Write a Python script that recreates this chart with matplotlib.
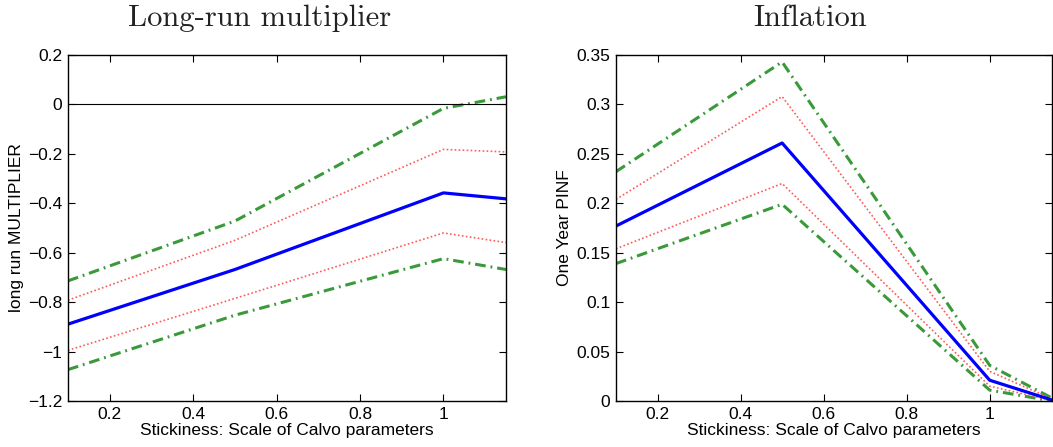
import matplotlib
matplotlib.use("Agg")
import matplotlib.pyplot as plt

x = [0.1, 0.5, 1.0, 1.15]

# Long-run multiplier
lr_mid = [-0.889, -0.668, -0.358, -0.382]
lr_up68 = [-0.792, -0.55, -0.182, -0.192]
lr_lo68 = [-0.995, -0.785, -0.52, -0.559]
lr_up90 = [-0.714, -0.472, -0.016, 0.031]
lr_lo90 = [-1.073, -0.853, -0.624, -0.668]

# Inflation
inf_mid = [0.177, 0.261, 0.021, 0.001]
inf_up68 = [0.204, 0.308, 0.030, 0.002]
inf_lo68 = [0.154, 0.220, 0.015, 0.0005]
inf_up90 = [0.232, 0.343, 0.036, 0.003]
inf_lo90 = [0.139, 0.199, 0.011, 0.0]

lr_yticks = [-1.2, -1, -0.8, -0.6, -0.4, -0.2, 0, 0.2]
inf_yticks = [0, 0.05, 0.1, 0.15, 0.2, 0.25, 0.3, 0.35]
xticks = [0.2, 0.4, 0.6, 0.8, 1]

plt.rcParams['font.family'] = ['Liberation Sans', 'DejaVu Sans']

fig = plt.figure(figsize=(10.53, 4.47), dpi=100)
W, H = 1053, 447
ax1 = fig.add_axes([68 / W, 46 / H, 438 / W, 346 / H])
ax2 = fig.add_axes([616 / W, 46 / H, 436 / W, 346 / H])

blue = '#0000ff'
red = '#ff5a5a'
green = '#3a9a3a'
dashdot = (0, (3.5, 1.6, 0.6, 1.6))
FS = 12.5


def fmt(v):
    s = ('%g' % v)
    return s.replace('-', '\u2212')


def draw(ax, mid, u68, l68, u90, l90, yticks, ylim, ylabel, title, tx):
    ax.plot(x, u90, color=green, lw=2.2, linestyle=dashdot)
    ax.plot(x, l90, color=green, lw=2.2, linestyle=dashdot)
    ax.plot(x, u68, color=red, lw=1.2, linestyle=(0, (1, 1.4)))
    ax.plot(x, l68, color=red, lw=1.2, linestyle=(0, (1, 1.4)))
    ax.plot(x, mid, color=blue, lw=2.3)
    ax.set_xlim(0.1, 1.15)
    ax.set_ylim(*ylim)
    ax.set_xticks(xticks)
    ax.set_xticklabels([fmt(t) for t in xticks])
    ax.set_yticks(yticks)
    ax.set_yticklabels([fmt(t) for t in yticks])
    ax.tick_params(direction='in', top=True, right=True, length=5, width=0.8,
                   labelsize=FS, pad=4)
    for s in ax.spines.values():
        s.set_linewidth(1.0)
    ax.set_xlabel('Stickiness: Scale of Calvo parameters', fontsize=FS, labelpad=1)
    ax.set_ylabel(ylabel, fontsize=FS, labelpad=3)
    t = ax.set_title(title, fontsize=22, fontfamily='cmr10', pad=21, color='#222222')
    t.set_x(tx)


draw(ax1, lr_mid, lr_up68, lr_lo68, lr_up90, lr_lo90, lr_yticks, (-1.2, 0.2),
     'long run MULTIPLIER', 'Long-run multiplier', 0.438)
ax1.axhline(0, color='black', lw=0.8)
draw(ax2, inf_mid, inf_up68, inf_lo68, inf_up90, inf_lo90, inf_yticks, (0, 0.35),
     'One Year PINF', 'Inflation', 0.445)

fig.savefig('out.png', dpi=100)
